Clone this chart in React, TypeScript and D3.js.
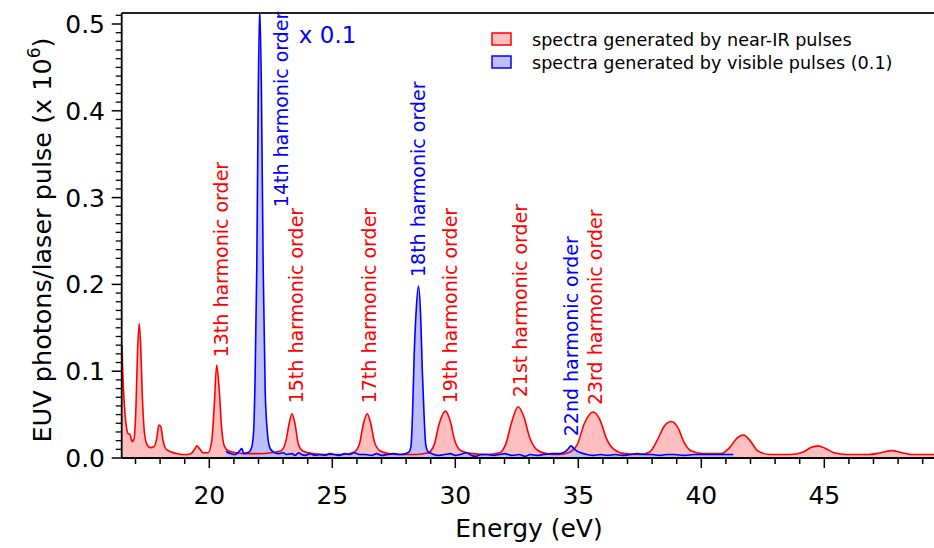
import React from "react";
import * as d3 from "d3";

const xTicks = [20, 25, 30, 35, 40, 45];
const yTicks = [0.0, 0.1, 0.2, 0.3, 0.4, 0.5];

const nearIR: [number, number][] = [
  [16.45,0.130],[16.48,0.100],[16.55,0.060],[16.62,0.038],[16.7,0.028],[16.78,0.027],[16.86,0.019],[16.94,0.022],
  [17.02,0.06],[17.08,0.12],[17.15,0.155],[17.21,0.13],[17.28,0.07],[17.36,0.03],[17.46,0.016],[17.6,0.012],
  [17.75,0.013],[17.86,0.022],[17.95,0.038],[18.03,0.036],[18.12,0.02],[18.25,0.01],[18.45,0.007],[18.7,0.005],
  [19.0,0.004],[19.25,0.005],[19.4,0.01],[19.5,0.014],[19.6,0.011],[19.75,0.006],[19.95,0.006],[20.1,0.02],
  [20.2,0.06],[20.3,0.107],[20.4,0.08],[20.5,0.035],[20.62,0.013],[20.8,0.008],[21.1,0.006],[21.5,0.005],
  [22.0,0.005],[22.5,0.006],[22.9,0.008],[23.1,0.018],[23.25,0.04],[23.36,0.051],[23.48,0.04],[23.62,0.016],
  [23.8,0.008],[24.2,0.005],[24.8,0.004],[25.4,0.004],[25.9,0.007],[26.1,0.016],[26.27,0.04],[26.42,0.051],
  [26.56,0.04],[26.72,0.018],[26.95,0.008],[27.3,0.005],[27.8,0.004],[28.4,0.004],[28.9,0.006],[29.15,0.016],
  [29.35,0.04],[29.6,0.054],[29.78,0.044],[29.98,0.02],[30.25,0.008],[30.7,0.005],[31.3,0.004],[31.8,0.006],
  [32.05,0.016],[32.3,0.042],[32.55,0.059],[32.78,0.048],[33.02,0.024],[33.3,0.01],[33.7,0.005],[34.2,0.004],
  [34.6,0.006],[34.95,0.015],[35.25,0.04],[35.6,0.053],[35.88,0.044],[36.15,0.022],[36.45,0.01],[36.9,0.005],
  [37.5,0.004],[37.9,0.007],[38.2,0.02],[38.5,0.037],[38.78,0.042],[39.05,0.035],[39.3,0.018],[39.6,0.008],
  [40.1,0.005],[40.8,0.005],[41.15,0.012],[41.45,0.023],[41.72,0.0265],[41.98,0.02],[42.3,0.008],[42.8,0.004],
  [43.6,0.004],[44.15,0.007],[44.45,0.012],[44.75,0.014],[45.05,0.011],[45.4,0.006],[45.9,0.004],[46.8,0.004],
  [47.3,0.006],[47.75,0.0085],[48.15,0.006],[48.6,0.004],[49.6,0.004],
];

const visible: [number, number][] = [
  [20.68,0.008],[20.78,0.006],[20.9,0.005],[21.05,0.004],[21.15,0.006],[21.25,0.009],[21.32,0.011],[21.4,0.005],
  [21.52,0.006],[21.62,0.007],[21.72,0.012],[21.8,0.03],[21.86,0.09],[21.93,0.22],[21.99,0.42],[22.05,0.52],
  [22.12,0.42],[22.19,0.22],[22.27,0.08],[22.36,0.03],[22.46,0.012],[22.6,0.007],[22.8,0.005],[23.0,0.006],
  [23.15,0.004],[23.35,0.005],[23.5,0.003],[23.62,0.006],[23.75,0.004],[23.9,0.003],[24.1,0.005],[24.3,0.003],
  [24.5,0.004],[24.7,0.003],[24.9,0.005],[25.1,0.004],[25.3,0.003],[25.5,0.005],[25.7,0.004],[25.9,0.006],
  [26.1,0.004],[26.35,0.004],[26.6,0.003],[26.8,0.005],[27.0,0.003],[27.25,0.004],[27.5,0.005],[27.75,0.004],
  [27.95,0.005],[28.12,0.007],[28.2,0.014],[28.26,0.05],[28.33,0.12],[28.41,0.17],[28.5,0.198],[28.59,0.165],
  [28.66,0.1],[28.73,0.05],[28.8,0.015],[28.9,0.007],[29.05,0.005],[29.3,0.003],[29.55,0.004],[29.8,0.005],
  [30.0,0.003],[30.2,0.004],[30.45,0.006],[30.65,0.003],[30.85,0.002],[31.05,0.004],[31.3,0.004],[31.55,0.003],
  [31.8,0.004],[32.0,0.005],[32.3,0.003],[32.6,0.004],[32.85,0.002],[33.05,0.004],[33.3,0.003],[33.6,0.004],
  [33.9,0.005],[34.2,0.005],[34.45,0.007],[34.6,0.011],[34.7,0.014],[34.82,0.011],[34.95,0.008],[35.1,0.006],
  [35.35,0.004],[35.6,0.003],[35.9,0.004],[36.2,0.003],[36.5,0.004],[36.8,0.003],[37.1,0.004],[37.4,0.005],
  [37.7,0.004],[38.0,0.004],[38.3,0.003],[38.6,0.004],[38.9,0.004],[39.3,0.003],[39.7,0.004],[40.1,0.004],
  [40.6,0.004],[41.0,0.004],[41.3,0.004],
];

// label: text, energy (baseline), value (start), color
const labelText = ["13th harmonic order","14th harmonic order","15th harmonic order","17th harmonic order","18th harmonic order","19th harmonic order","21st harmonic order","22nd harmonic order","23rd harmonic order"];
const labelE = [20.76, 23.2, 23.81, 26.78, 28.77, 30.07, 32.91, 34.98, 35.96];
const labelV = [0.116, 0.289, 0.063, 0.063, 0.2085, 0.063, 0.070, 0.025, 0.061];
const labelIsVisible = [false, true, false, false, true, false, false, true, false];

const legendLabels = ["spectra generated by near-IR pulses", "spectra generated by visible pulses (0.1)"];

const W = 934, H = 548;
const FONT = "'DejaVu Sans', sans-serif";
const RED = "#ff0000", BLUE = "#0000ff";
const PINK = "#ffbfbf", LAV = "#bfbfff";

export default function App() {
  const x = d3.scaleLinear().domain([20, 45]).range([209.3, 824.3]);
  const y = d3.scaleLinear().domain([0, 0.5]).range([458, 24]);
  const xMin = x.invert(121.7), xMax = x.invert(W);
  const yMax = y.invert(13);
  const left = x(xMin), right = x(xMax), top = y(yMax), bottom = y(0);

  const area = d3.area<[number, number]>().x(d => x(d[0])).y0(y(0)).y1(d => y(d[1])).curve(d3.curveMonotoneX);
  const line = d3.line<[number, number]>().x(d => x(d[0])).y(d => y(d[1])).curve(d3.curveMonotoneX);

  const xMinor = d3.range(Math.ceil(xMin), Math.floor(xMax) + 1).filter(v => v % 5 !== 0);
  const yMinor = d3.range(0, Math.round(yMax * 100) + 1).map(v => v / 100).filter(v => Math.round(v * 100) % 10 !== 0);

  return (
    <svg width={W} height={H} style={{ position: "absolute", left: 0, top: 0, background: "#fff" }} fontFamily={FONT}>
      <defs>
        <clipPath id="plot"><rect x={left} y={top} width={right - left} height={bottom - top} /></clipPath>
      </defs>
      <g clipPath="url(#plot)">
        <path d={area(nearIR) || ""} fill={PINK} />
        <path d={area(visible) || ""} fill={LAV} />
        <path d={line(nearIR) || ""} fill="none" stroke={RED} strokeWidth={1.6} />
        <path d={line(visible) || ""} fill="none" stroke={BLUE} strokeWidth={1.6} />
      </g>
      {/* frame */}
      <line x1={left} x2={right} y1={top} y2={top} stroke="#222" strokeWidth={1.8} />
      <line x1={left} x2={left} y1={top} y2={bottom} stroke="#000" strokeWidth={1.8} />
      <line x1={left} x2={right} y1={bottom} y2={bottom} stroke="#000" strokeWidth={1.8} />
      {/* x ticks */}
      {xTicks.map(t => (
        <g key={"xt" + t}>
          <line x1={x(t)} x2={x(t)} y1={bottom} y2={bottom + 10} stroke="#000" strokeWidth={1.5} />
          <text x={x(t)} y={504} textAnchor="middle" fontSize={25}>{t}</text>
        </g>
      ))}
      {xMinor.map(t => (
        <line key={"xm" + t} x1={x(t)} x2={x(t)} y1={bottom} y2={bottom + 6} stroke="#000" strokeWidth={1.5} />
      ))}
      {/* y ticks */}
      {yTicks.map(t => (
        <g key={"yt" + t}>
          <line x1={left - 10} x2={left} y1={y(t)} y2={y(t)} stroke="#000" strokeWidth={1.5} />
          <text x={105} y={y(t)} dy="0.36em" textAnchor="end" fontSize={25}>{t.toFixed(1)}</text>
        </g>
      ))}
      {yMinor.map(t => (
        <line key={"ym" + t} x1={left - 6} x2={left} y1={y(t)} y2={y(t)} stroke="#000" strokeWidth={1.3} />
      ))}
      {/* axis titles */}
      <text x={529} y={537} textAnchor="middle" fontSize={25}>Energy (eV)</text>
      <text transform={`translate(51,240) rotate(-90)`} textAnchor="middle" fontSize={25.5}>
        EUV photons/laser pulse (x 10<tspan dy={-11} fontSize={17}>6</tspan><tspan dy={11}>)</tspan>
      </text>
      {/* peak labels */}
      {labelText.map((t, i) => (
        <text key={t} transform={`translate(${x(labelE[i])},${y(labelV[i])}) rotate(-90)`} fontSize={19}
          fill={labelIsVisible[i] ? BLUE : RED}>{t}</text>
      ))}
      <text x={x(23.64)} y={y(0.478)} fontSize={23} fill={BLUE}>x 0.1</text>
      {/* legend */}
      {legendLabels.map((t, i) => (
        <g key={t}>
          <rect x={492} y={33 + i * 23} width={19} height={12} fill={i === 0 ? PINK : LAV} stroke={i === 0 ? RED : BLUE} strokeWidth={1.5} />
          <text x={532} y={45.5 + i * 23} fontSize={17.6}>{t}</text>
        </g>
      ))}
    </svg>
  );
}
